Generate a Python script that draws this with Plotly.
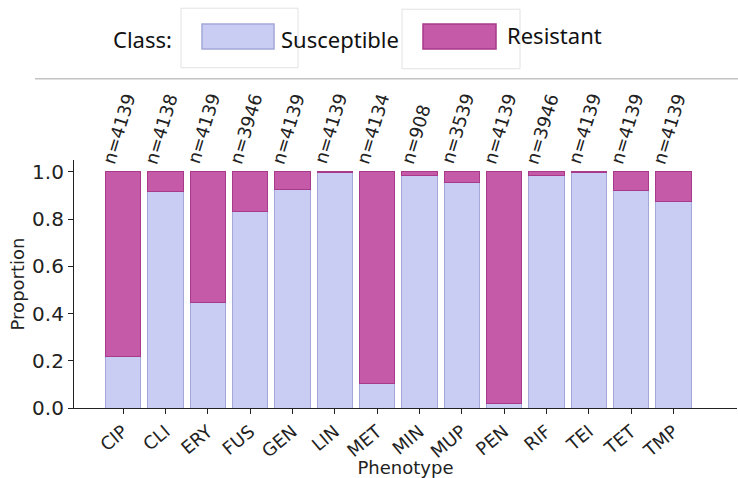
import plotly.graph_objects as go

phenotypes = ["CIP", "CLI", "ERY", "FUS", "GEN", "LIN", "MET", "MIN", "MUP", "PEN", "RIF", "TEI", "TET", "TMP"]
susceptible = [0.22, 0.916, 0.447, 0.83, 0.927, 0.997, 0.102, 0.984, 0.956, 0.018, 0.984, 0.995, 0.922, 0.876]
resistant = [round(1 - s, 4) for s in susceptible]
counts = [4139, 4138, 4139, 3946, 4139, 4139, 4134, 908, 3539, 4139, 3946, 4139, 4139, 4139]
yticks = [0.0, 0.2, 0.4, 0.6, 0.8, 1.0]

sus_fill, sus_edge = "#c9cdf3", "#a3a8d8"
res_fill, res_edge = "#c55ba8", "#a83a8c"
axis_font = "DejaVu Sans"
legend_font = "Noto Sans"

L, R, T, B = 74, 737, 160, 410

fig = go.Figure()
fig.add_trace(go.Bar(x=phenotypes, y=susceptible, name="Susceptible",
                     marker=dict(color=sus_fill, line=dict(color=sus_edge, width=1))))
fig.add_trace(go.Bar(x=phenotypes, y=resistant, name="Resistant",
                     marker=dict(color=res_fill, line=dict(color=res_edge, width=1))))

for p, n in zip(phenotypes, counts):
    fig.add_annotation(x=p, y=1.0, xref="x", yref="y", text=f"n={n}", showarrow=False,
                       textangle=-73, xanchor="center", yanchor="bottom", yshift=3, xshift=-4,
                       font=dict(family=axis_font, size=18, color="#222"))

def px(x):
    return (x - L) / (R - L)
def py(y):
    return (B - y) / (B - T)

shapes = [
    dict(type="line", xref="paper", yref="paper", x0=px(35), x1=px(738), y0=py(78), y1=py(78),
         line=dict(color="#c4c4c4", width=1.5)),
]
for (x0, x1, y0, y1) in [(181, 298, 7, 67), (402, 520, 8, 68)]:
    shapes.append(dict(type="rect", xref="paper", yref="paper", x0=px(x0), x1=px(x1), y0=py(y1), y1=py(y0),
                       line=dict(color="#e2e2e2", width=1), fillcolor="rgba(0,0,0,0)", layer="below"))
shapes.append(dict(type="rect", xref="paper", yref="paper", x0=px(202), x1=px(274), y0=py(48), y1=py(23),
                   fillcolor=sus_fill, line=dict(color=sus_edge, width=1.5)))
shapes.append(dict(type="rect", xref="paper", yref="paper", x0=px(423), x1=px(496), y0=py(48), y1=py(23),
                   fillcolor=res_fill, line=dict(color=res_edge, width=1.5)))
for txt, x, y in [("Class:", 111, 38), ("Susceptible", 279, 38), ("Resistant", 505, 34)]:
    fig.add_annotation(x=px(x), y=py(y), xref="paper", yref="paper", text=txt, showarrow=False,
                       xanchor="left", yanchor="middle", font=dict(family=legend_font, size=22, color="#111"))

fig.update_layout(
    barmode="stack", bargap=0.17, showlegend=False,
    width=738, height=478, margin=dict(l=L, r=738 - R, t=T, b=478 - B),
    plot_bgcolor="white", paper_bgcolor="white",
    shapes=shapes,
    font=dict(family=axis_font, size=18, color="#222"),
)
fig.update_xaxes(range=[-1.16, 14.5], showline=True, linecolor="#222", linewidth=1.2,
                 ticks="outside", ticklen=5, tickcolor="#222", tickangle=-40,
                 tickfont=dict(size=18), title=dict(text="Phenotype", font=dict(size=18), standoff=2),
                 showgrid=False, zeroline=False)
fig.update_yaxes(range=[0, 1.05], showline=True, linecolor="#222", linewidth=1.2,
                 ticks="outside", ticklen=5, tickcolor="#222", tickvals=yticks,
                 ticktext=[f"{v:.1f}" for v in yticks], tickfont=dict(size=20),
                 title=dict(text="Proportion", font=dict(size=18), standoff=2),
                 showgrid=False, zeroline=False)

fig.write_html("out.html")
